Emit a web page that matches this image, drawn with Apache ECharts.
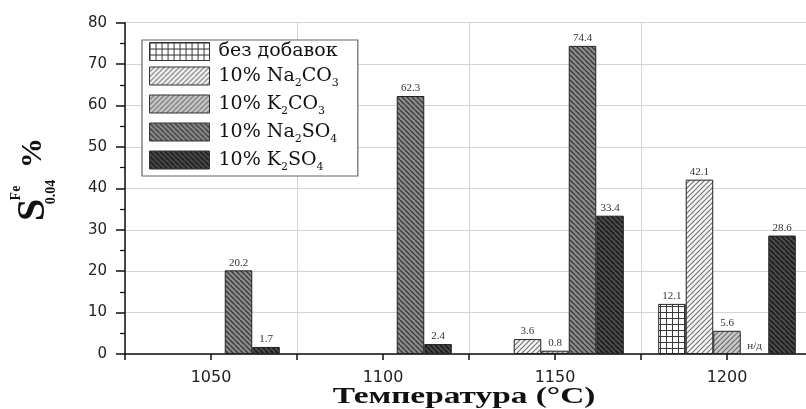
<!DOCTYPE html>
<html>
<head>
<meta charset="utf-8">
<script src="https://cdn.jsdelivr.net/npm/echarts@6/dist/echarts.min.js"></script>
<style>
html,body{margin:0;padding:0;background:#fff;}
#chart{width:806px;height:409px;}
</style>
</head>
<body>
<div id="chart"></div>
<script>
// ---- data ----
const categories = ['1050', '1100', '1150', '1200'];
const seriesNames = ['без добавок', '10% Na2CO3', '10% K2CO3', '10% Na2SO4', '10% K2SO4'];
const noAdditive = [null, null, null, 12.1];
const na2co3 = [null, null, 3.6, 42.1];
const k2co3 = [null, null, 0.8, 5.6];
const na2so4 = [20.2, 62.3, 74.4, null];
const k2so4 = [1.7, 2.4, 33.4, 28.6];
const na2so4Notes = [null, null, null, 'н/д'];
const legendRich = {
  'без добавок': '{t|без добавок}',
  '10% Na2CO3': '{t|10% Na}{s|2}{t|CO}{s|3}',
  '10% K2CO3': '{t|10% K}{s|2}{t|CO}{s|3}',
  '10% Na2SO4': '{t|10% Na}{s|2}{t|SO}{s|4}',
  '10% K2SO4': '{t|10% K}{s|2}{t|SO}{s|4}'
};

// ---- patterns ----
function hatch(bg, fg, dir, step, lw) {
  const c = document.createElement('canvas');
  c.width = step; c.height = step;
  const ctx = c.getContext('2d');
  ctx.fillStyle = bg; ctx.fillRect(0, 0, step, step);
  ctx.strokeStyle = fg; ctx.lineWidth = lw;
  for (let k = -1; k <= 1; k++) {
    ctx.beginPath();
    if (dir === '/') { ctx.moveTo(k * step, step); ctx.lineTo(k * step + step, 0); }
    else { ctx.moveTo(k * step, 0); ctx.lineTo(k * step + step, step); }
    ctx.stroke();
  }
  return { image: c, repeat: 'repeat' };
}
function gridPat(bg, fg, step) {
  const c = document.createElement('canvas');
  c.width = step; c.height = step;
  const ctx = c.getContext('2d');
  ctx.fillStyle = bg; ctx.fillRect(0, 0, step, step);
  ctx.fillStyle = fg;
  ctx.fillRect(0, 0, step, 1);
  ctx.fillRect(0, 0, 1, step);
  return { image: c, repeat: 'repeat' };
}
const fills = [
  gridPat('#ffffff', '#3a3a3a', 6),
  hatch('#f4f4f4', '#6e6e6e', '/', 5, 1.1),
  hatch('#c9c9c9', '#6a6a6a', '/', 5, 1.2),
  hatch('#8c8c8c', '#3a3a3a', '\\', 5, 1.4),
  hatch('#4e4e4e', '#1c1c1c', '\\', 5, 1.6)
];

const serif = '"Liberation Serif", "DejaVu Serif", serif';
const labelStyle = { show: true, position: 'top', distance: 2, fontFamily: serif, fontSize: 11, color: '#333' };

function mkSeries(idx, values, notes) {
  const data = values.map((v, i) => {
    if (v === null && notes && notes[i]) {
      return { value: 0, itemStyle: { borderWidth: 0 }, label: { formatter: notes[i] } };
    }
    return v;
  });
  return {
    name: seriesNames[idx], type: 'bar', data: data,
    barGap: '0%', barCategoryGap: '20%',
    itemStyle: { color: fills[idx], borderColor: '#222', borderWidth: 1 },
    label: labelStyle,
    emphasis: { disabled: true }
  };
}

const chart = echarts.init(document.getElementById('chart'), null, { renderer: 'canvas' });
chart.setOption({
  animation: false,
  backgroundColor: '#fff',
  grid: { left: 125, top: 22.7, width: 688, bottom: 55, containLabel: false, outerBoundsMode: 'none' },
  legend: {
    orient: 'vertical', left: 142, top: 40,
    itemWidth: 60, itemHeight: 18, itemGap: 5.5,
    padding: [2, 19, 3, 7],
    backgroundColor: '#fff', borderColor: '#666', borderWidth: 1.2, borderRadius: 0,
    icon: 'rect',
    itemStyle: { borderColor: '#333', borderWidth: 1 },
    formatter: n => legendRich[n],
    textStyle: {
      padding: [0, 0, 0, 4],
      rich: {
        t: { fontFamily: '"DejaVu Serif", serif', fontSize: 19, color: '#111', lineHeight: 26 },
        s: { fontFamily: '"DejaVu Serif", serif', fontSize: 11, color: '#111', lineHeight: 12, verticalAlign: 'bottom' }
      }
    },
    data: seriesNames
  },
  xAxis: [
    {
      type: 'category', data: categories, position: 'bottom',
      axisLine: { lineStyle: { color: '#111', width: 1.5 } },
      axisTick: { show: true, length: 6, lineStyle: { color: '#111', width: 1.5 } },
      axisLabel: { fontFamily: '"DejaVu Sans", sans-serif', fontSize: 16, color: '#222', margin: 16 },
      splitLine: { show: true, lineStyle: { color: '#d4d4d4', width: 1 } }
    },
    {
      type: 'category', data: categories, position: 'bottom', offset: 0,
      axisLine: { show: false },
      axisTick: { show: true, alignWithLabel: true, length: 6, lineStyle: { color: '#111', width: 1.5 } },
      axisLabel: { show: false },
      splitLine: { show: false }
    }
  ],
  yAxis: {
    type: 'value', min: 0, max: 80, interval: 10,
    axisLine: { show: true, lineStyle: { color: '#111', width: 1.5 } },
    axisTick: { show: true, length: 9, lineStyle: { color: '#111', width: 1.5 } },
    minorTick: { show: true, splitNumber: 2, length: 5, lineStyle: { color: '#111', width: 1.2 } },
    axisLabel: { fontFamily: '"DejaVu Sans", sans-serif', fontSize: 15, color: '#222', margin: 18 },
    splitLine: { show: true, lineStyle: { color: '#d4d4d4', width: 1 } }
  },
  graphic: [
    { type: 'text', x: 34, y: 210, rotation: Math.PI / 2, style: { text: 'S', font: 'bold 40px "Liberation Serif"', fill: '#111', textAlign: 'center', textVerticalAlign: 'middle' } },
    { type: 'text', x: 16, y: 193, rotation: Math.PI / 2, style: { text: 'Fe', font: 'bold 14px "Liberation Serif"', fill: '#111', textAlign: 'center', textVerticalAlign: 'middle' } },
    { type: 'text', x: 51, y: 192, rotation: Math.PI / 2, style: { text: '0.04', font: 'bold 14px "Liberation Serif"', fill: '#111', textAlign: 'center', textVerticalAlign: 'middle' } },
    { type: 'text', x: 33, y: 153, rotation: Math.PI / 2, style: { text: '%', font: 'bold 30px "Liberation Serif"', fill: '#111', textAlign: 'center', textVerticalAlign: 'middle' } },
    { type: 'text', x: 464, y: 397, scaleX: 1.45, style: { text: 'Температура (°C)', font: 'bold 23px "Liberation Serif"', fill: '#111', textAlign: 'center', textVerticalAlign: 'middle' } }
  ],
  series: [
    mkSeries(0, noAdditive),
    mkSeries(1, na2co3),
    mkSeries(2, k2co3),
    mkSeries(3, na2so4, na2so4Notes),
    mkSeries(4, k2so4)
  ]
});
</script>
</body>
</html>
